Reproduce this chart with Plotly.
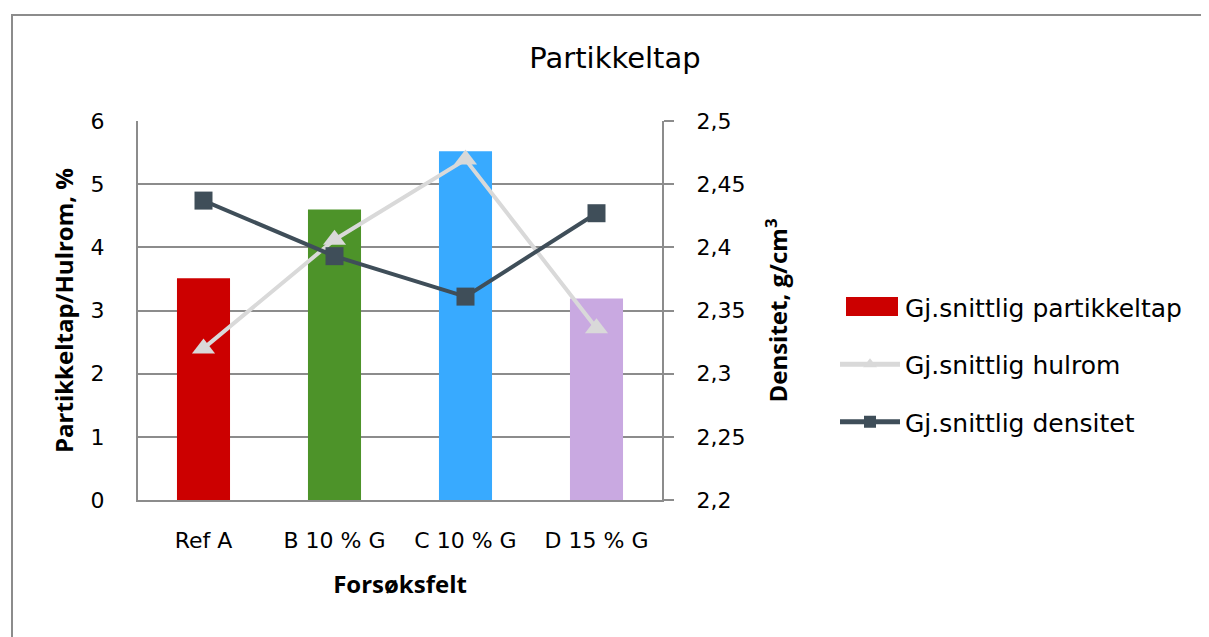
import plotly.graph_objects as go

# data
felt = ["Ref A", "B 10 % G", "C 10 % G", "D 15 % G"]
partikkeltap = [3.51, 4.60, 5.52, 3.19]
hulrom = [2.40, 4.12, 5.39, 2.72]
densitet = [2.437, 2.393, 2.361, 2.427]
bar_colors = ["#cc0000", "#4d9329", "#38aaff", "#c9a9e1"]

grid = "#8c8c8c"
tick_font = dict(family="DejaVu Sans", size=22, color="#000000")
title_font = dict(family="Open Sans", size=24, color="#000000")

# page body adds an 8px offset; work in reference pixel coords and shift
OFF = 8
W, H = 1209 - OFF, 637 - OFF
px0, px1, py0, py1 = 138 - OFF, 662 - OFF, 121 - OFF, 500 - OFF


def xp(v):
    return (v - OFF - px0) / (px1 - px0)


def yp(v):
    return (py1 - (v - OFF)) / (py1 - py0)


fig = go.Figure()
fig.add_trace(go.Bar(x=felt, y=partikkeltap, name="Gj.snittlig partikkeltap", legendgroup="a",
                     marker=dict(color=bar_colors, line=dict(width=0))))
fig.add_trace(go.Scatter(x=felt, y=hulrom, name="Gj.snittlig hulrom", mode="lines+markers",
                         legendgroup="b",
                         line=dict(color="#d9d9d9", width=4),
                         marker=dict(symbol="triangle-up", size=20, color="#d9d9d9")))
fig.add_trace(go.Scatter(x=felt, y=densitet, name="Gj.snittlig densitet", mode="lines+markers",
                         legendgroup="c", yaxis="y2", line=dict(color="#3f4e59", width=4),
                         marker=dict(symbol="square", size=18, color="#3f4e59")))

fig.update_layout(
    width=W, height=H,
    margin=dict(l=px0, r=W - px1, t=py0, b=H - py1),
    paper_bgcolor="white", plot_bgcolor="white",
    separators=", ",
    bargap=0.595,
    title=dict(text="Partikkeltap", xref="container", x=(615 - OFF) / W, xanchor="center",
               yref="container", y=1 - (58 - OFF) / H, yanchor="middle",
               font=dict(family="DejaVu Sans", size=29, color="#000000")),
    xaxis=dict(showgrid=False, showline=True, linecolor=grid, linewidth=2,
               tickfont=tick_font, ticks="outside", ticklen=20, tickcolor="rgba(0,0,0,0)",
               title=dict(text="<b>Forsøksfelt</b>", font=title_font, standoff=24)),
    yaxis=dict(range=[0, 6], dtick=1, showgrid=True, gridcolor=grid, gridwidth=2,
               showline=True, linecolor=grid, linewidth=2, zeroline=False,
               tickfont=tick_font, ticks="outside", ticklen=27, tickcolor="rgba(0,0,0,0)",
               title=dict(text="<b>Partikkeltap/Hulrom, %</b>", font=title_font, standoff=10)),
    yaxis2=dict(range=[2.2, 2.5], dtick=0.05, overlaying="y", side="right", showgrid=False,
                showline=True, linecolor=grid, linewidth=2, zeroline=False,
                tickfont=tick_font, ticks="outside", ticklen=10, tickcolor=grid, tickwidth=2,
                ticklabelstandoff=18,
                title=dict(text="<b>Densitet, g/cm<sup>3</sup></b>", font=title_font, standoff=26)),
    legend=dict(x=xp(835), xanchor="left", y=yp(284), yanchor="top",
                bgcolor="rgba(0,0,0,0)",
                font=dict(family="DejaVu Sans", size=25, color="#000000"),
                itemwidth=60, tracegroupgap=22, itemsizing="constant"),
    shapes=[
        dict(type="rect", xref="paper", yref="paper",
             x0=xp(12), x1=xp(1230), y0=yp(660), y1=yp(15),
             line=dict(color="#8c8c8c", width=2), layer="below"),
        # wider swatch for the bar entry in the legend
        dict(type="rect", xref="paper", yref="paper",
             x0=xp(846), x1=xp(898), y0=yp(316), y1=yp(297),
             fillcolor="#cc0000", line=dict(width=0), layer="above"),
    ],
)

fig.write_html("out.html")
